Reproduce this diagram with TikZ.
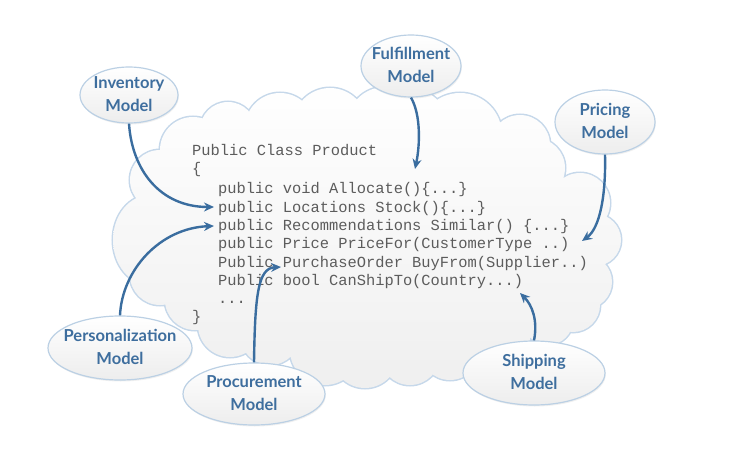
\documentclass[tikz,border=0pt]{standalone}
\usepackage{fontspec}
\setmonofont{Liberation Mono}
\newfontfamily\handfont{Lato}
\usetikzlibrary{shapes.geometric,arrows.meta,shadows}
\definecolor{cloudline}{HTML}{C6D8EA}
\definecolor{arrowblue}{HTML}{3A6D9F}
\definecolor{textblue}{HTML}{3E6E9E}
\definecolor{codegray}{HTML}{5C5C5C}
\definecolor{ellline}{HTML}{BBD0E4}
\newcommand\mycloudcircles{(150,240) ellipse [x radius=37pt, y radius=45pt]
 (160,180) circle [radius=30pt] (193,150) circle [radius=33pt]
 (228,130) circle [radius=28pt] (280,128) circle [radius=35pt]
 (330,125) circle [radius=37pt] (385,125) circle [radius=38pt]
 (415,120) circle [radius=30pt] (460,135) circle [radius=42pt]
 (520,145) circle [radius=30pt] (535,168) circle [radius=30pt]
 (580,203) circle [radius=30pt] (595,240) circle [radius=26pt]
 (585,282) circle [radius=27pt] (573,305) circle [radius=27pt]
 (548,320) circle [radius=25pt] (500,340) circle [radius=30pt]
 (450,350) circle [radius=30pt] (410,355) circle [radius=30pt]
 (365,355) circle [radius=33pt] (325,350) circle [radius=35pt]
 (270,335) circle [radius=30pt] (230,325) circle [radius=32pt]
 (195,300) circle [radius=30pt] (160,275) circle [radius=30pt]}
\newcommand\mycloudpoly{(150,240) -- (160,180) -- (193,150) -- (228,130) -- (280,128)
 -- (330,125) -- (385,125) -- (415,120) -- (460,135) -- (520,145) -- (535,168)
 -- (580,203) -- (595,240) -- (585,282) -- (573,305) -- (548,320) -- (500,340)
 -- (450,350) -- (410,355) -- (365,355) -- (325,350) -- (270,335) -- (230,325)
 -- (195,300) -- (160,275) -- cycle}
\newcommand\twolines[2]{\raisebox{-5pt}[0pt][0pt]{\makebox[0pt]{\begin{tabular}{@{}c@{}}#1\\#2\end{tabular}}}}
\begin{document}
\begin{tikzpicture}[x=1pt,y=-1pt,
 model/.style={ellipse, draw=ellline, line width=1.2pt, top color=white, bottom color=gray!14,
   inner sep=0pt, text=textblue, font=\handfont\bfseries\fontsize{16.5}{23}\selectfont,
   drop shadow={opacity=0.12, shadow xshift=0.8pt, shadow yshift=-1.5pt}},
 code/.style={anchor=base west, inner sep=0pt, text=codegray, font=\ttfamily\fontsize{15.4}{18.5}\selectfont},
 link/.style={draw=arrowblue, line width=2.4pt, -{Stealth[length=10pt,width=9pt]}}]
\useasboundingbox (0,0) rectangle (734,455);
% cloud
\draw[cloudline, line width=3pt] \mycloudcircles;
\begin{scope}
 \clip \mycloudpoly;
 \shade[top color=white, bottom color=gray!13] (100,80) rectangle (640,400);
\end{scope}
\begin{scope}
 \clip \mycloudcircles;
 \shade[top color=white, bottom color=gray!13] (100,80) rectangle (640,400);
\end{scope}
% code
\node[code] (l1) at (192,155) {Public Class Product};
\node[code] (l2) at (192,173) {\{};
\node[code] (l3) at (218,193) {public void Allocate()\{...\}};
\node[code] (l4) at (218,212) {public Locations Stock()\{...\}};
\node[code] (l5) at (218,230) {public Recommendations Similar() \{...\}};
\node[code] (l6) at (218,248) {public Price PriceFor(CustomerType ..)};
\node[code] (l7) at (218,267) {Public PurchaseOrder BuyFrom(Supplier..)};
\node[code] (l8) at (218,285) {Public bool CanShipTo(Country...)};
\node[code] (l9) at (218,303) {...};
\node[code] (l10) at (192,321) {\}};
% models
\node[model, minimum width=98pt, minimum height=56pt] (inv) at (129,95) {\twolines{Inventory}{Model}};
\node[model, minimum width=100pt, minimum height=62pt] (ful) at (411,66) {\twolines{Fulfillment}{Model}};
\node[model, minimum width=100pt, minimum height=64pt] (pri) at (605,122) {\twolines{Pricing}{Model}};
\node[model, minimum width=144pt, minimum height=64pt] (pers) at (120,348) {\twolines{Personalization}{Model}};
\node[model, minimum width=142pt, minimum height=62pt] (proc) at (254,394) {\twolines{Procurement}{Model}};
\node[model, minimum width=142pt, minimum height=64pt] (ship) at (534,373) {\twolines{Shipping}{Model}};
% arrow tips
\coordinate (tinv) at (214,207);
\coordinate (tpers) at (214,226);
\coordinate (tproc) at (281,267);
\coordinate (tful) at (415,169);
\coordinate (tpri) at (582,241);
\coordinate (tship) at (520,293);
\draw[link] (inv.south) .. controls (132,170) and (160,207) .. (tinv);
\draw[link] (pers.north) .. controls (122,270) and (160,228) .. (tpers);
\draw[link] (proc.north) .. controls (255,295) and (258,268) .. (tproc);
\draw[link] (ful.south) .. controls (421,115) and (420,145) .. (tful);
\draw[link] (pri.south) .. controls (606,195) and (600,228) .. (tpri);
\draw[link] (ship.north) .. controls (538,320) and (532,305) .. (tship);
\end{tikzpicture}
\end{document}
